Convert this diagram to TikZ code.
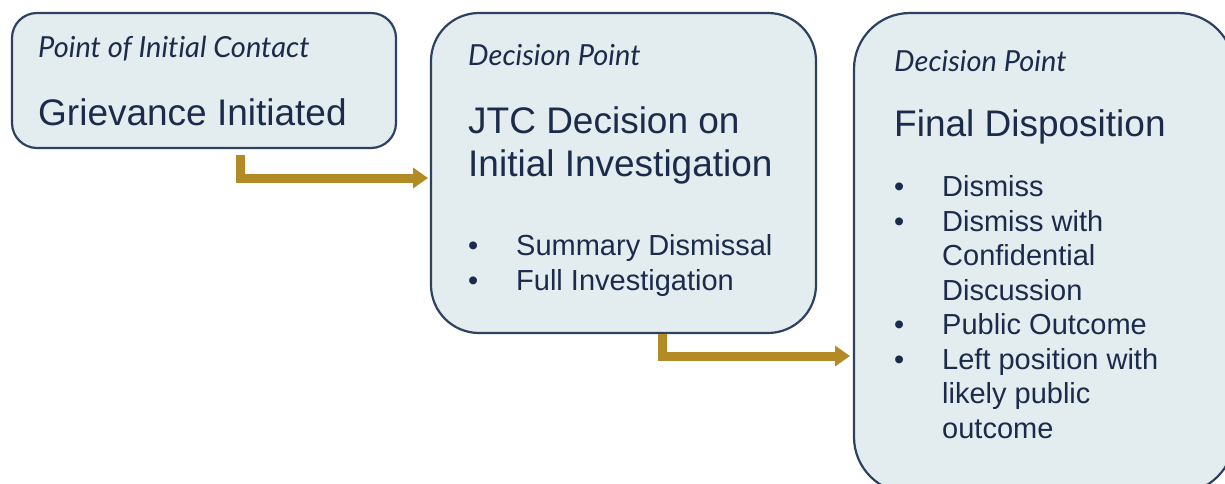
\documentclass[tikz,border=0pt]{standalone}
\usepackage{fontspec}
\setmainfont{Liberation Sans}
\newfontfamily\latofont{Lato}[Ligatures=NoCommon]
\usetikzlibrary{arrows.meta}
\usetikzlibrary{positioning,calc}
\definecolor{boxfill}{HTML}{E3ECEE}
\definecolor{boxline}{HTML}{2D4263}
\definecolor{inktext}{HTML}{1C2B4B}
\definecolor{gold}{HTML}{B38B26}
\tikzset{
    stage/.style={
        draw=boxline,
        line width=2.2pt,
        fill=boxfill,
        rectangle,
        inner sep=0pt,
        outer sep=0pt,
        anchor=north west
    },
    kind/.style={font=\latofont\itshape\fontsize{29}{34}\selectfont, text=inktext, anchor=base west, inner sep=0pt},
    title/.style={font=\fontsize{37}{43}\selectfont, text=inktext, anchor=base west, inner sep=0pt, align=left},
    items/.style={font=\fontsize{29}{34.5}\selectfont, text=inktext, anchor=base west, inner sep=0pt, align=left},
    flow/.style={draw=gold, line width=9pt, -{Triangle[length=15pt, width=20pt]}}
}
\newcommand{\itm}{\makebox[48pt][l]{\textbullet}}
\newcommand{\hang}{\hspace*{48pt}}

\begin{document}
\begin{tikzpicture}[x=1pt, y=-1pt]
  \useasboundingbox (0,0) rectangle (1225,484);

  % Stages
  \node[stage, rounded corners=25pt, minimum width=384pt, minimum height=135pt] (init) at (12,13) {};
  \node[stage, rounded corners=48pt, minimum width=385pt, minimum height=320pt] (jtc) at (431,13) {};
  \node[stage, rounded corners=56pt, minimum width=380pt, minimum height=480pt] (final) at (854,13) {};

  % Point of initial contact
  \node[kind] (init-kind) at ([shift={(26,45)}]init.north west) {Point of Initial Contact};
  \node[title] (init-title) at ([shift={(26,112)}]init.north west) {Grievance Initiated};

  % First decision (base sits on the last line)
  \node[kind] (jtc-kind) at ([shift={(37,53)}]jtc.north west) {Decision Point};
  \node[title] (jtc-title) at ([shift={(37,163)}]jtc.north west) {JTC Decision on\\Initial Investigation};
  \node[items] (jtc-items) at ([shift={(37,277)}]jtc.north west)
    {\itm Summary Dismissal\\\itm Full Investigation};

  % Final decision
  \node[kind] (final-kind) at ([shift={(40,59)}]final.north west) {Decision Point};
  \node[title] (final-title) at ([shift={(40,123)}]final.north west) {Final Disposition};
  \node[items] (final-items) at ([shift={(40,425)}]final.north west)
    {\itm Dismiss\\\itm Dismiss with\\\hang Confidential\\\hang Discussion\\
     \itm Public Outcome\\\itm Left position with\\\hang likely public\\\hang outcome};

  % Flow between stages
  \draw[flow] ([shift={(228,7)}]init.south west) |- ([xshift=-3pt, yshift=-165pt]jtc.north west);
  \draw[flow] ([shift={(231,1)}]jtc.south west) |- ([xshift=-4pt, yshift=-343pt]final.north west);
\end{tikzpicture}
\end{document}
